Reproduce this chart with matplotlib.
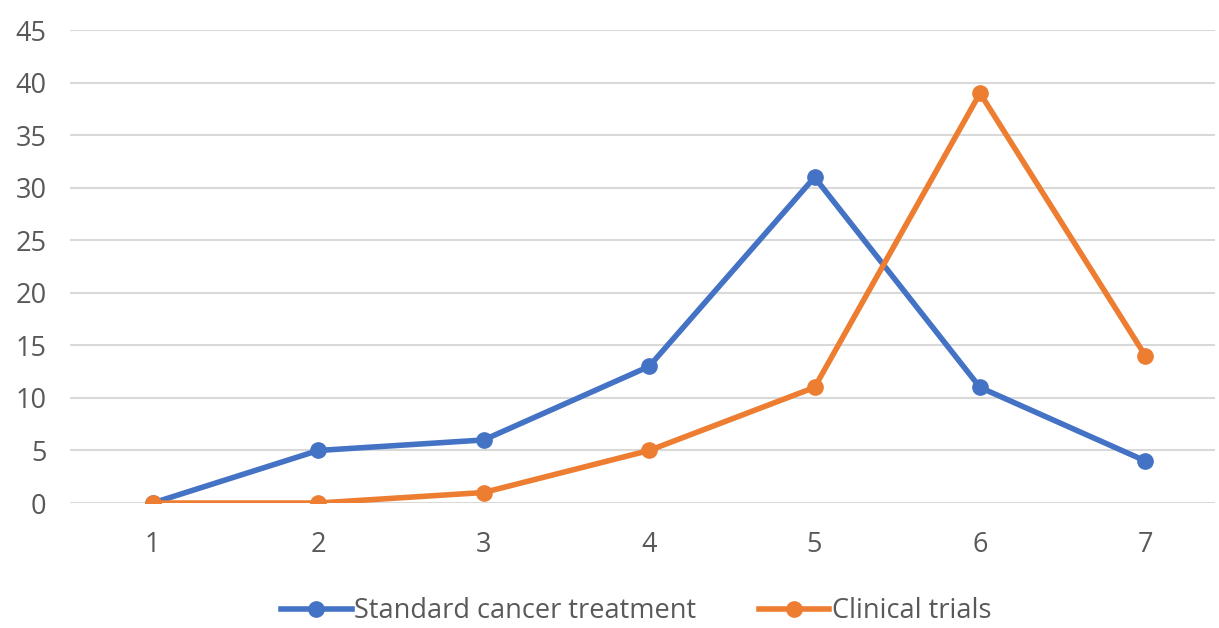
import matplotlib
matplotlib.use("Agg")
import matplotlib.pyplot as plt

# dati
categorie = [1, 2, 3, 4, 5, 6, 7]
standard = [0, 5, 6, 13, 31, 11, 4]
trials = [0, 0, 1, 5, 11, 39, 14]
y_ticks = list(range(0, 50, 5))

plt.rcParams["font.family"] = ["Open Sans", "DejaVu Sans"]

fig = plt.figure(figsize=(12.19, 6.28), dpi=100)
ax = fig.add_axes([0.0574, 0.199, 0.9393, 0.753])

ax.plot(categorie, standard, color="#4472C4", lw=4, marker="o", ms=11,
        label="Standard cancer treatment", zorder=3)
ax.plot(categorie, trials, color="#ED7D31", lw=4, marker="o", ms=11,
        label="Clinical trials", zorder=4)

ax.set_ylim(0, 45)
ax.set_xlim(0.5, 7.42)
ax.set_yticks(y_ticks)
ax.set_xticks(categorie)
ax.yaxis.grid(True, color="#D9D9D9", lw=1.5)
ax.set_axisbelow(True)
for s in ax.spines.values():
    s.set_visible(False)
ax.tick_params(length=0, labelsize=19.5, labelcolor="#595959")
ax.tick_params(axis="y", pad=17)
ax.tick_params(axis="x", pad=20)

leg = fig.legend(loc="center", bbox_to_anchor=(0.522, 0.027), ncol=2,
                 frameon=False, fontsize=19.5, handlelength=2.6,
                 handletextpad=0.1, columnspacing=2.3)
for t in leg.get_texts():
    t.set_color("#595959")

fig.savefig("out.png", dpi=100)
